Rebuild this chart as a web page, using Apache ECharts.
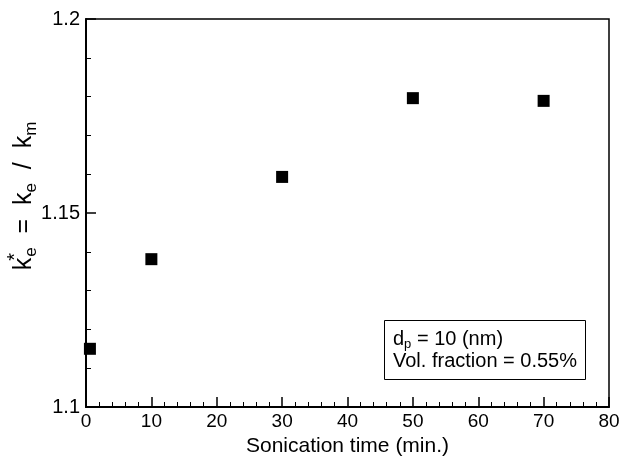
<!DOCTYPE html>
<html>
<head>
<meta charset="utf-8">
<script src="https://cdn.jsdelivr.net/npm/echarts@6/dist/echarts.min.js"></script>
<style>
html,body{margin:0;padding:0;background:#fff;}
#c{width:620px;height:460px;}
</style>
</head>
<body>
<div id="c"></div>
<script>
var sonicationTime = [0.6, 10, 30, 50, 70];
var kRatio = [1.115, 1.1381, 1.1593, 1.1796, 1.1789];
var xTicks = [0, 10, 20, 30, 40, 50, 60, 70, 80];
var yTicks = [1.1, 1.15, 1.2];

var FONT = 'Liberation Sans, Arial, Helvetica, sans-serif';
var chart = echarts.init(document.getElementById('c'), null, {renderer: 'canvas'});

var points = sonicationTime.map(function (t, i) { return [t, kRatio[i]]; });

chart.setOption({
  animation: false,
  backgroundColor: '#fff',
  textStyle: {fontFamily: FONT, color: '#000'},
  grid: {
    left: 86, right: 11, top: 19, bottom: 53,
    show: true, borderColor: '#000', borderWidth: 1.5,
    containLabel: false, outerBoundsMode: 'none'
  },
  xAxis: {
    type: 'value',
    min: xTicks[0], max: xTicks[xTicks.length - 1], interval: 10,
    name: 'Sonication time (min.)',
    nameLocation: 'middle', nameGap: 26,
    nameTextStyle: {fontSize: 21, fontFamily: FONT, color: '#000'},
    axisLine: {show: true, onZero: false, lineStyle: {color: '#000', width: 2}},
    axisTick: {show: true, inside: true, length: 10, lineStyle: {color: '#000', width: 1.5}},
    minorTick: {show: true, splitNumber: 5, length: 5, lineStyle: {color: '#000', width: 1}},
    axisLabel: {fontSize: 19, fontFamily: FONT, color: '#000', margin: 5},
    splitLine: {show: false}
  },
  yAxis: {
    type: 'value',
    min: yTicks[0], max: yTicks[yTicks.length - 1], interval: 0.05,
    axisLine: {show: true, onZero: false, lineStyle: {color: '#000', width: 2}},
    axisTick: {show: true, inside: true, length: 10, lineStyle: {color: '#000', width: 1.5}},
    minorTick: {show: true, splitNumber: 5, length: 5, lineStyle: {color: '#000', width: 1}},
    axisLabel: {fontSize: 20, fontFamily: FONT, color: '#000', margin: 6,
      formatter: function (v) { return String(+v.toFixed(3)); }},
    splitLine: {show: false}
  },
  title: {
    left: 384, top: 320,
    padding: [8, 9, 8, 9],
    borderColor: '#000', borderWidth: 1,
    backgroundColor: '#fff',
    text: 'd{sub|p} = 10 (nm)\nVol. fraction = 0.55%',
    textStyle: {
      fontSize: 20, fontFamily: FONT, color: '#000', fontWeight: 'normal', lineHeight: 22,
      rich: {
        sub: {fontSize: 13, fontFamily: FONT, color: '#000', padding: [10, 0, 0, 0]}
      }
    }
  },
  graphic: [{
    type: 'text',
    x: 24, y: 196,
    rotation: Math.PI / 2,
    style: {
      text: 'k{sup|*}{sub|e}  =  k{sub|e}  /  k{sub|m}',
      fontSize: 25, fontFamily: FONT, fill: '#000',
      align: 'center', verticalAlign: 'middle',
      rich: {
        sup: {fontSize: 20, fontFamily: FONT, color: '#000', width: 0, padding: [0, 0, 18, 1]},
        sub: {fontSize: 17, fontFamily: FONT, color: '#000', padding: [14, 0, 0, 0]}
      }
    }
  }],
  series: [{
    type: 'scatter',
    data: points,
    symbol: 'rect',
    symbolSize: 12,
    itemStyle: {color: '#000', opacity: 1},
    clip: false
  }]
});
</script>
</body>
</html>
